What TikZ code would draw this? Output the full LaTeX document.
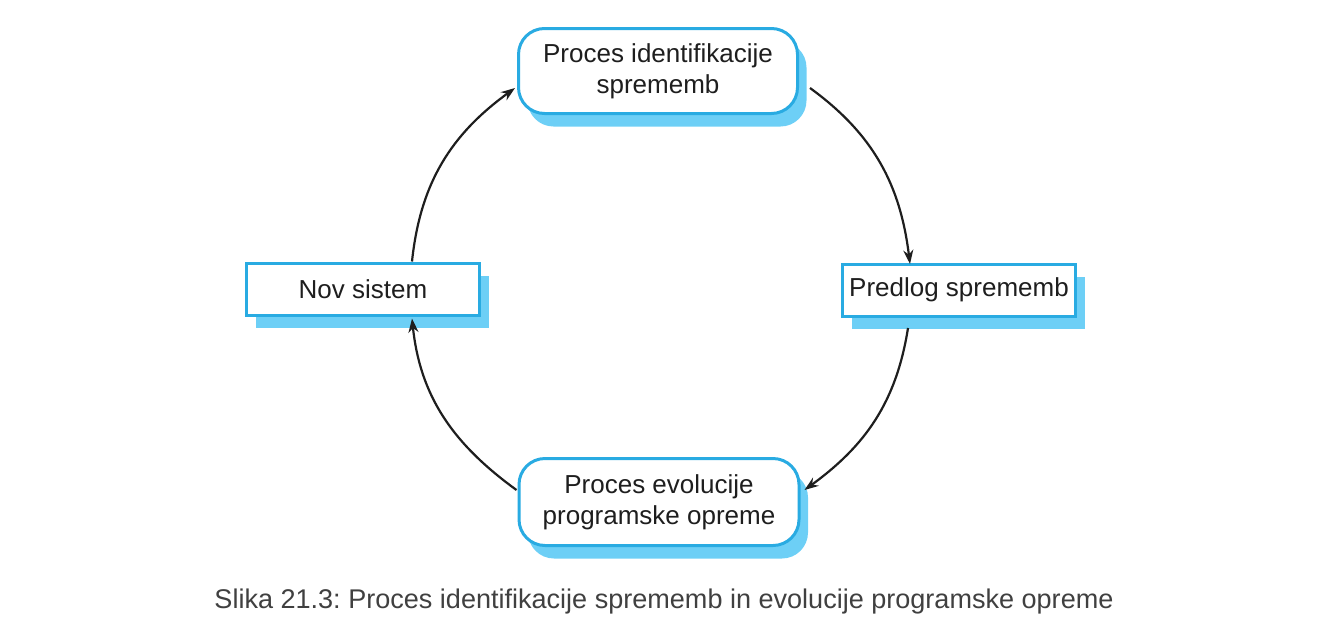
\documentclass[tikz,border=0pt]{standalone}
\usepackage{fontspec}
\setmainfont{Liberation Sans}
\usetikzlibrary{shadows,arrows.meta}
\definecolor{boxblue}{HTML}{29ABE2}
\definecolor{shadowblue}{HTML}{6DCFF6}
\definecolor{txt}{HTML}{1E1E1E}
\definecolor{captxt}{HTML}{404040}
\tikzset{
  box/.style={draw=boxblue, line width=3pt, fill=white, text=txt,
    align=center, inner sep=0pt,
    font=\fontsize{26}{31}\selectfont,
    general shadow={shadow xshift=9pt, shadow yshift=-13pt, fill=shadowblue}},
  roundbox/.style={box, rounded corners=26pt},
  arr/.style={draw=txt, line width=2.2pt, -{Stealth[length=14pt,width=10pt]}},
}
\frenchspacing
\begin{document}
\begin{tikzpicture}[x=1pt,y=1pt]
\useasboundingbox (0,0) rectangle (1338,-635);
\node[roundbox, minimum width=279pt, minimum height=85pt] (top) at (658,-71) {Proces identifikacije\\sprememb};
\node[box, minimum width=233pt, minimum height=52pt] (nov) at (363,-289) {Nov sistem};
\node[box, minimum width=233pt, minimum height=52pt] (pred) at (959,-290) {Predlog sprememb};
\node[roundbox, minimum width=280pt, minimum height=87pt] (bot) at (659,-502) {Proces evolucije\\programske opreme};
\node[text=captxt, font=\fontsize{27.05}{32}\selectfont, inner sep=0pt] (cap) at (664,-601) {Slika 21.3: Proces identifikacije sprememb in evolucije programske opreme};
\draw[arr] ([xshift=11pt,yshift=-17pt]top.east) to[out=-36,in=97] ([xshift=-49pt,yshift=-1.5pt]pred.north);
\draw[arr] ([xshift=-51pt,yshift=-10.5pt]pred.south) to[out=-99,in=36] ([xshift=4pt,yshift=12pt]bot.east);
\draw[arr] ([xshift=-1pt,yshift=12pt]bot.west) to[out=144,in=-84] ([xshift=49pt,yshift=-2pt]nov.south);
\draw[arr] ([xshift=49pt]nov.north) to[out=84,in=-144] ([xshift=-2pt,yshift=-17pt]top.west);
\end{tikzpicture}
\end{document}
